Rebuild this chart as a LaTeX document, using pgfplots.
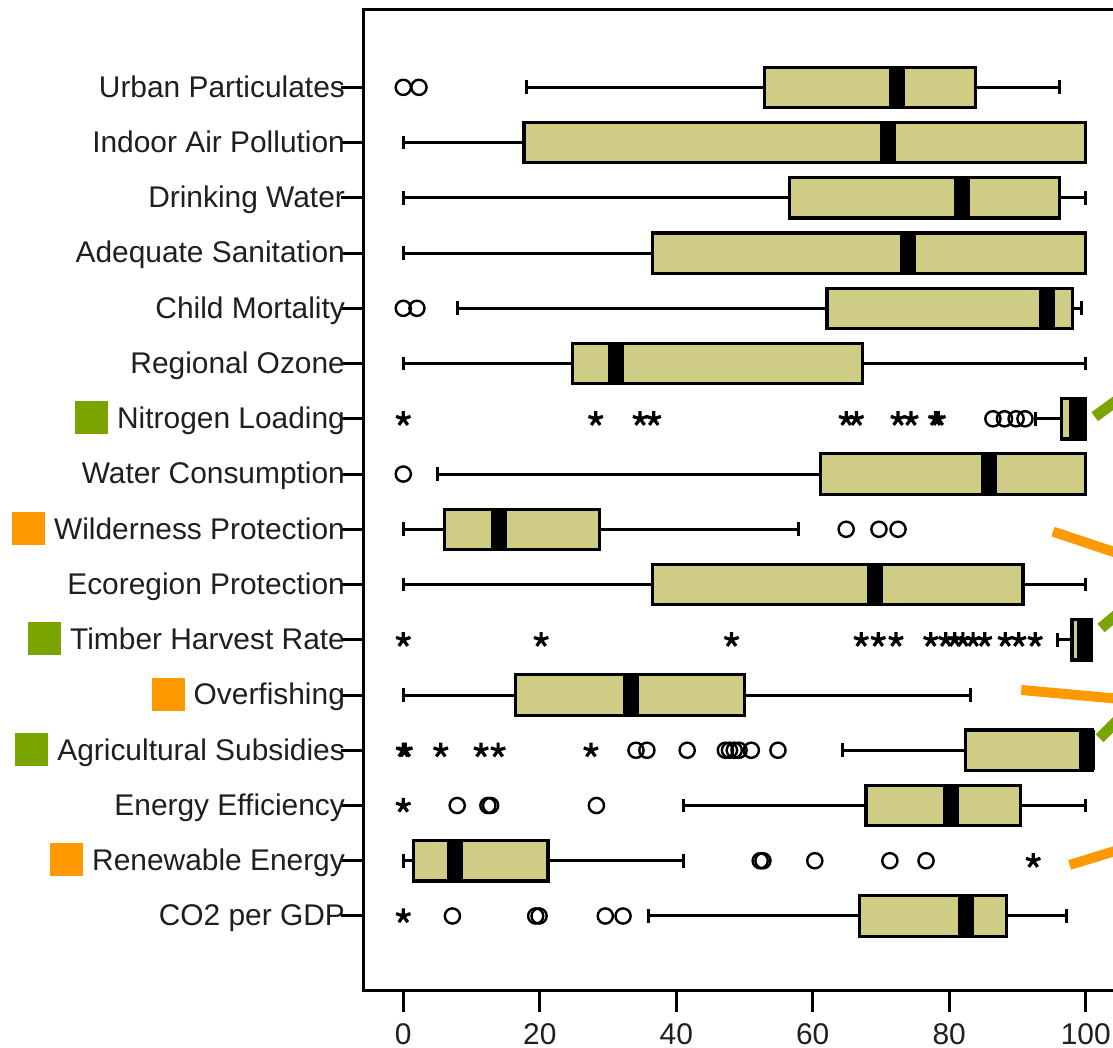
\documentclass[border=0pt]{standalone}
\usepackage{fontspec}
\setmainfont{Liberation Sans}
\usepackage{pgfplots}
\pgfplotsset{compat=1.18}
\usepgfplotslibrary{statistics}
\definecolor{boxfill}{RGB}{207,204,133}
\definecolor{mkgreen}{RGB}{122,164,0}
\definecolor{mkorange}{RGB}{255,153,0}
\newcommand{\sq}[1]{\textcolor{#1}{\raisebox{\dimexpr0.358em-8.25pt\relax}{\rule{16.5pt}{16.5pt}}}\hspace{4.5pt}}
\begin{document}
\begin{tikzpicture}
\useasboundingbox (-181.65pt,-29pt) rectangle (374.85pt,495pt);
\clip (-181.65pt,-29pt) rectangle (374.85pt,495pt);
\begin{axis}[
  at={(0,0)}, anchor=south west,
  scale only axis, width=388.5pt, height=490pt,
  xmin=-5.86, xmax=108,
  ymin=-0.40, ymax=17.34, y dir=reverse,
  axis line style={line width=1.5pt, black},
  tick align=outside, major tick length=11pt,
  tick style={line width=1.5pt, black},
  xtick pos=bottom, ytick pos=left,
  xtick={0,20,40,60,80,100},
  ytick={1,2,3,4,5,6,7,8,9,10,11,12,13,14,15,16},
  yticklabels={Urban Particulates, Indoor Air Pollution, Drinking Water, Adequate Sanitation, Child Mortality, Regional Ozone, {\sq{mkgreen}Nitrogen Loading}, Water Consumption, {\sq{mkorange}Wilderness Protection}, Ecoregion Protection, {\sq{mkgreen}Timber Harvest Rate}, {\sq{mkorange}Overfishing}, {\sq{mkgreen}Agricultural Subsidies}, Energy Efficiency, {\sq{mkorange}Renewable Energy}, CO2 per GDP},
  /pgf/number format/assume math mode=true,
  ticklabel style={font=\fontsize{14.95}{17}\selectfont, color={black!88}},
  yticklabel style={text height=0.716em, text depth=0pt, inner sep=0pt, xshift=2pt, yshift=-1.3pt},
  xticklabel style={yshift=-2.2pt},
  boxplot/draw direction=x,
  boxplot/box extend=0.73,
  boxplot/whisker extend=0.25,
  boxplot/every box/.style={draw=black, fill=boxfill, line width=1.6pt},
  boxplot/every whisker/.style={draw=black, line width=1.5pt},
  boxplot/every median/.style={draw=black, line width=8pt},
  circ/.style={only marks, mark=o, mark size=3.8pt, mark options={line width=1.2pt, black}},
  ast/.style={only marks, mark=star, mark size=3.8pt, mark options={line width=1.6pt, black}},
]
% boxes
\addplot[draw=black, boxplot prepared={draw position=1, lower whisker=18.1, lower quartile=52.9, median=72.3, upper quartile=83.8, upper whisker=96.2}] coordinates {};
\addplot[draw=black, boxplot prepared={draw position=2, lower whisker=0, lower quartile=17.7, median=71.0, upper quartile=100, upper whisker=100}] coordinates {};
\addplot[draw=black, boxplot prepared={draw position=3, lower whisker=0, lower quartile=56.6, median=81.9, upper quartile=96.2, upper whisker=99.9}] coordinates {};
\addplot[draw=black, boxplot prepared={draw position=4, lower whisker=0, lower quartile=36.5, median=73.9, upper quartile=100, upper whisker=100}] coordinates {};
\addplot[draw=black, boxplot prepared={draw position=5, lower whisker=7.9, lower quartile=62.1, median=94.3, upper quartile=98.1, upper whisker=99.4}] coordinates {};
\addplot[draw=black, boxplot prepared={draw position=6, lower whisker=0, lower quartile=24.8, median=31.2, upper quartile=67.3, upper whisker=100}] coordinates {};
\addplot[draw=black, boxplot prepared={draw position=7, lower whisker=92.7, lower quartile=96.5, median=98.7, upper quartile=100, upper whisker=100}] coordinates {};
\addplot[draw=black, boxplot prepared={draw position=8, lower whisker=5.0, lower quartile=61.1, median=85.9, upper quartile=100, upper whisker=100}] coordinates {};
\addplot[draw=black, boxplot prepared={draw position=9, lower whisker=0, lower quartile=6.0, median=14.0, upper quartile=28.7, upper whisker=57.9}] coordinates {};
\addplot[draw=black, boxplot prepared={draw position=10, lower whisker=0, lower quartile=36.5, median=69.1, upper quartile=90.8, upper whisker=100}] coordinates {};
\addplot[draw=black, boxplot prepared={draw position=11, lower whisker=95.9, lower quartile=98.0, median=99.9, upper quartile=100.9, upper whisker=100.9}] coordinates {};
\addplot[draw=black, boxplot prepared={draw position=12, lower whisker=0, lower quartile=16.5, median=33.3, upper quartile=50.0, upper whisker=83.1}] coordinates {};
\addplot[draw=black, boxplot prepared={draw position=13, lower whisker=64.3, lower quartile=82.4, median=100.2, upper quartile=101.0, upper whisker=101.0}] coordinates {};
\addplot[draw=black, boxplot prepared={draw position=14, lower whisker=41.0, lower quartile=67.8, median=80.3, upper quartile=90.4, upper whisker=100}] coordinates {};
\addplot[draw=black, boxplot prepared={draw position=15, lower whisker=0, lower quartile=1.5, median=7.6, upper quartile=21.2, upper whisker=41.0}] coordinates {};
\addplot[draw=black, boxplot prepared={draw position=16, lower whisker=35.9, lower quartile=66.8, median=82.5, upper quartile=88.4, upper whisker=97.2}] coordinates {};
% outliers (circles)
\addplot[circ] coordinates {(0,1) (2.3,1) (0,5) (2.0,5) (86.4,7) (88.1,7) (89.8,7) (91.1,7) (0,8) (64.9,9) (69.7,9) (72.5,9)
 (34.1,13) (35.7,13) (41.6,13) (47.2,13) (47.8,13) (48.5,13) (49.2,13) (51.0,13) (54.9,13)
 (7.9,14) (12.4,14) (12.8,14) (28.3,14)
 (52.3,15) (52.7,15) (60.3,15) (71.3,15) (76.6,15)
 (7.2,16) (19.4,16) (19.9,16) (29.6,16) (32.2,16)};
% extremes (stars)
\addplot[ast] coordinates {(0,7) (28.2,7) (34.7,7) (36.7,7) (64.9,7) (66.4,7) (72.5,7) (74.4,7) (78.0,7) (78.4,7)
 (0,11) (20.2,11) (48.1,11) (67.1,11) (69.6,11) (72.2,11) (77.3,11) (79.5,11) (80.8,11) (82.0,11) (83.5,11) (85.2,11) (88.2,11) (90.2,11) (92.6,11)
 (0,13) (0.3,13) (5.5,13) (11.4,13) (13.9,13) (27.5,13)
 (0,14) (92.3,15) (0,16)};
% annotation strokes
\draw[mkgreen, line width=5.5pt] (axis cs:101.32,6.962) -- (axis cs:109.4,6.234);
\draw[mkorange, line width=5pt] (axis cs:95.21,9.043) -- (axis cs:109.4,9.628);
\draw[mkgreen, line width=5.5pt] (axis cs:102.24,10.787) -- (axis cs:109.4,10.048);
\draw[mkorange, line width=5pt] (axis cs:90.56,11.909) -- (axis cs:109.4,12.12);
\draw[mkgreen, line width=5.5pt] (axis cs:102.05,12.783) -- (axis cs:109.4,11.872);
\draw[mkorange, line width=5pt] (axis cs:97.65,15.076) -- (axis cs:109.4,14.629);
\end{axis}
\end{tikzpicture}
\end{document}
